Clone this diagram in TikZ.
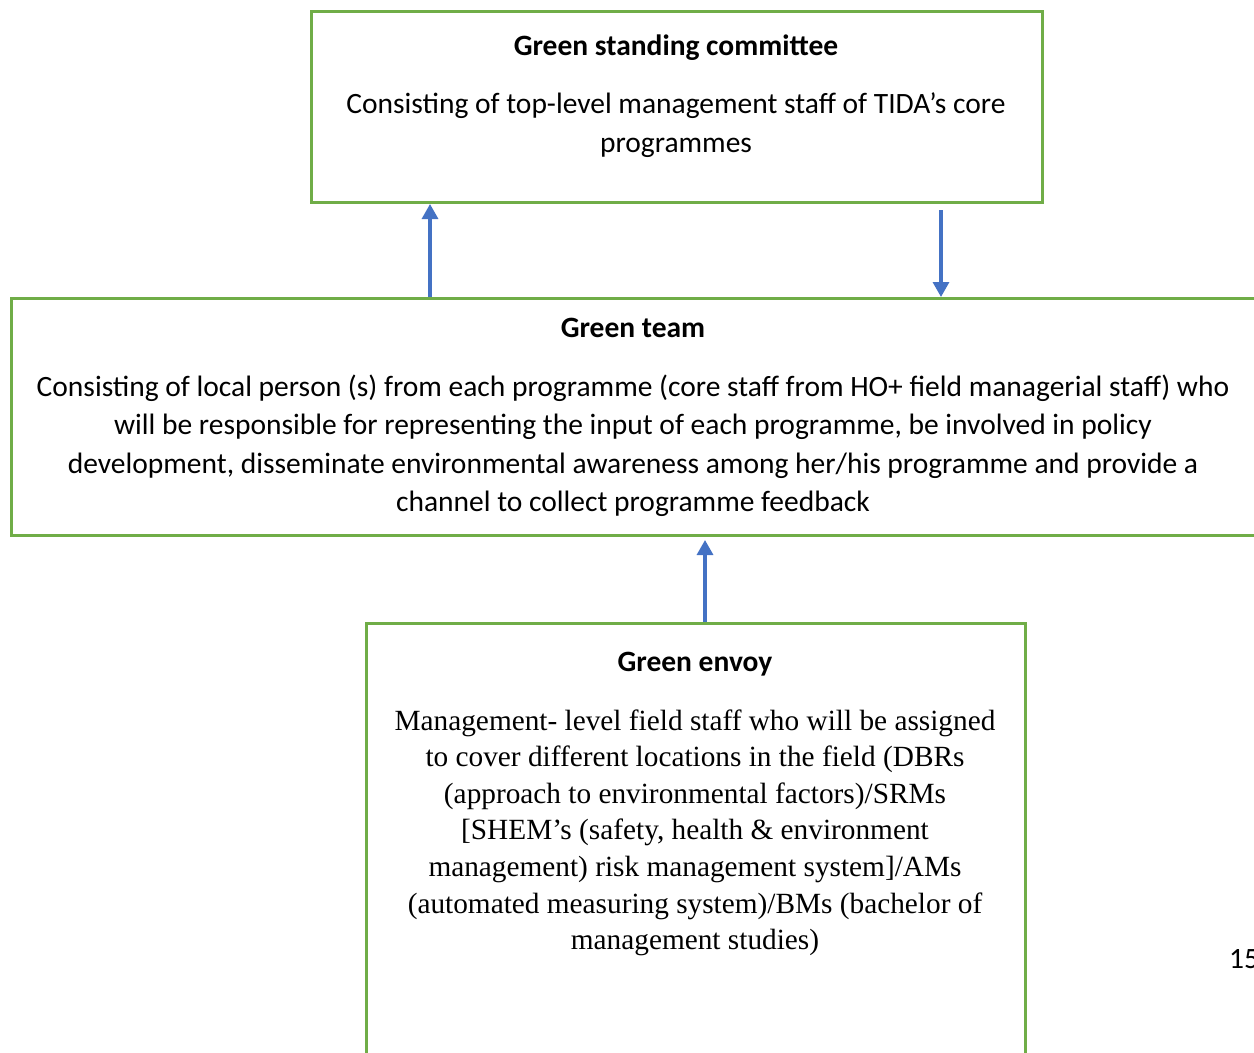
\documentclass[tikz,border=0pt]{standalone}
\usepackage{fontspec}
\setmainfont{Carlito}
\newfontfamily\serifface{Liberation Serif}
\usetikzlibrary{arrows.meta}
\definecolor{boxgreen}{HTML}{70AD47}
\definecolor{arrblue}{HTML}{4472C4}
\tikzset{
  gbox/.style={draw=boxgreen, line width=3pt, rectangle, anchor=north west, inner sep=0pt},
  arr/.style={draw=arrblue, line width=3.2pt, -{Triangle[length=15pt,width=16pt]}},
  bodytext/.style={align=center, anchor=base, inner sep=0pt, font=\fontsize{29.5}{38.5}\selectfont},
  headtext/.style={anchor=base, inner sep=0pt, font=\fontsize{29.5}{38.5}\selectfont\bfseries},
  serifbody/.style={align=center, anchor=base, inner sep=0pt, font=\serifface\fontsize{29.3}{36.6}\selectfont}
}
\begin{document}
\begin{tikzpicture}[x=1pt,y=-1pt]
\useasboundingbox (0,0) rectangle (1254,1053);
\clip (0,0) rectangle (1254,1053);
% boxes
\node[gbox, minimum width=731pt, minimum height=191pt] (committee) at (310,10) {};
\node[gbox, minimum width=1300pt, minimum height=237pt] (team) at (10,297) {};
\node[gbox, minimum width=659pt, minimum height=520pt] (envoy) at (365,622) {};
% texts (base anchor = baseline of last line)
\node[headtext] (committeehead) at (676,55) {Green standing committee};
\node[bodytext] (committeebody) at (676,152) {Consisting of top-level management staff of TIDA’s core\\programmes};
\node[headtext] (teamhead) at (633,337) {Green team};
\node[bodytext] (teambody) at (633,511.5) {Consisting of local person (s) from each programme (core staff from HO+ field managerial staff) who\\will be responsible for representing the input of each programme, be involved in policy\\development, disseminate environmental awareness among her/his programme and provide a\\channel to collect programme feedback};
\node[headtext] (envoyhead) at (695,671) {Green envoy};
\node[serifbody] (envoybody) at (695,949.6) {Management- level field staff who will be assigned\\to cover different locations in the field (DBRs\\(approach to environmental factors)/SRMs\\{[}SHEM’s (safety, health \& environment\\management) risk management system]/AMs\\(automated measuring system)/BMs (bachelor of\\management studies)};
\node[anchor=base west, inner sep=0pt, font=\fontsize{29.5}{38.5}\selectfont] (pagenum) at (1229,968) {15};
% connectors
\coordinate (upx) at (430,297);
\draw[arr] (team.north -| upx) -- (committee.south -| upx);
\coordinate (downstart) at (941,210);
\draw[arr] (downstart) -- (team.north -| downstart);
\coordinate (envoytip) at (705,540);
\draw[arr] (envoy.north -| envoytip) -- (envoytip);
\end{tikzpicture}
\end{document}
